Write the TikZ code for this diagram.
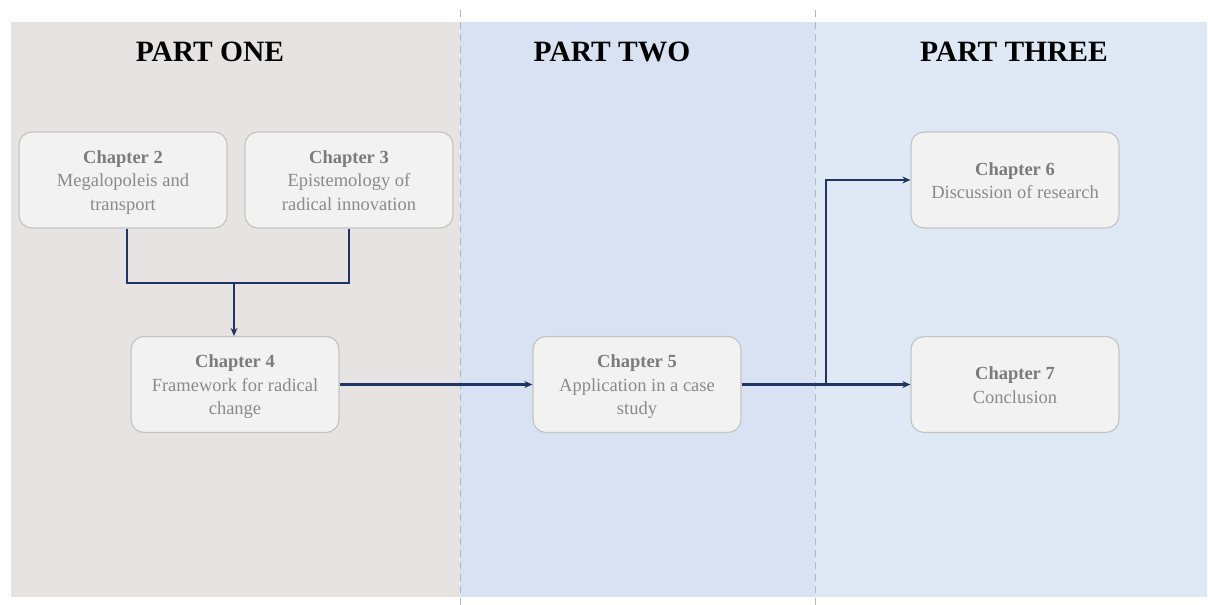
\documentclass[tikz,border=0pt]{standalone}
\usepackage{fontspec}
\setmainfont{Liberation Serif}
\usetikzlibrary{arrows.meta}
\definecolor{panelA}{HTML}{E7E3E3}
\definecolor{panelB}{HTML}{D8E2F2}
\definecolor{panelC}{HTML}{DFE9F6}
\definecolor{boxfill}{HTML}{F2F2F2}
\definecolor{boxline}{HTML}{C4C4C4}
\definecolor{headtxt}{HTML}{7B7B7B}
\definecolor{bodytxt}{HTML}{8A8A8A}
\definecolor{flow}{HTML}{1F3566}
\definecolor{divider}{HTML}{B4B6BA}
\tikzset{
  x=1pt, y=-1pt,
  chapbox/.style={draw=boxline, line width=1.2pt, fill=boxfill, rounded corners=13pt,
    minimum width=208pt, minimum height=96pt, inner sep=0pt, align=center,
    text=bodytxt, font=\fontsize{18.5}{23.5}\selectfont},
  parttitle/.style={font=\fontsize{29.5}{31}\selectfont\bfseries, text=black},
  flowline/.style={draw=flow, line width=2.1pt},
  flowarrow/.style={flowline, -{Stealth[length=8pt,width=7pt]}},
  divline/.style={draw=divider, line width=1pt, dash pattern=on 7pt off 5pt}
}
% every line of a chapter box carries the same strut so that the lines sit evenly
\newcommand{\lnstrut}{\rule[-5pt]{0pt}{23.5pt}}
\newcommand{\chead}[1]{\lnstrut{\bfseries\color{headtxt}#1}}
\newcommand{\chline}[1]{\lnstrut#1}
\begin{document}
\begin{tikzpicture}
\useasboundingbox (0,0) rectangle (1208,605);
\fill[white] (0,0) rectangle (1208,605);
% section panels
\fill[panelA] (11,22) rectangle (460,597);
\fill[panelB] (460,22) rectangle (815,597);
\fill[panelC] (815,22) rectangle (1207,597);
\draw[divline] (460,10) -- (460,605);
\draw[divline] (815,10) -- (815,605);
% headings
\node[parttitle] (p1) at (210,52) {PART ONE};
\node[parttitle] (p2) at (612,52) {PART TWO};
\node[parttitle] (p3) at (1014,52) {PART THREE};
% chapters
\node[chapbox] (c2) at (123,180) {\chead{Chapter 2}\\\chline{Megalopoleis and}\\\chline{transport}};
\node[chapbox] (c3) at (349,180) {\chead{Chapter 3}\\\chline{Epistemology of}\\\chline{radical innovation}};
\node[chapbox] (c4) at (235,384.5) {\chead{Chapter 4}\\\chline{Framework for radical}\\\chline{change}};
\node[chapbox] (c5) at (637,384.5) {\chead{Chapter 5}\\\chline{Application in a case}\\\chline{study}};
\node[chapbox] (c6) at (1015,180) {\chead{Chapter 6}\\\chline{Discussion of research}};
\node[chapbox] (c7) at (1015,384.5) {\chead{Chapter 7}\\\chline{Conclusion}};
% connectors
\coordinate (j1) at (234,283);
\coordinate (j2) at (826,384.5);
\draw[flowline] (c2.south -| 127,0) -- (127,283) -- (349,283) -- (c3.south -| 349,0);
\draw[flowarrow] (j1) -- (c4.north -| j1);
\draw[flowarrow] (c4.east) -- (c5.west);
\draw[flowarrow] (c5.east) -- (c7.west);
\draw[flowarrow] (j2) -- (j2 |- c6.west) -- (c6.west);
\end{tikzpicture}
\end{document}
